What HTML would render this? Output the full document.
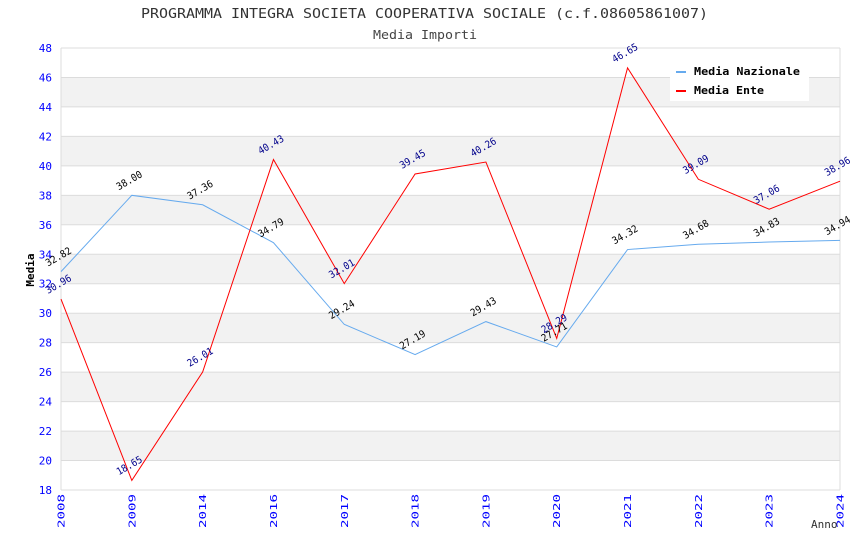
<!DOCTYPE html>
<html><head><meta charset="utf-8"><style>
body{margin:0;background:#fff;}
svg text{font-family:"DejaVu Sans Mono","Liberation Mono",monospace;}
</style></head><body>
<svg id="chart" width="850" height="550" xmlns="http://www.w3.org/2000/svg">
<text x="141" y="18" textLength="567" lengthAdjust="spacingAndGlyphs" font-size="13" fill="#333">PROGRAMMA INTEGRA SOCIETA COOPERATIVA SOCIALE (c.f.08605861007)</text>
<text x="373" y="39" textLength="104" lengthAdjust="spacingAndGlyphs" font-size="12" fill="#444">Media Importi</text>
<g id="bands"></g><g id="grid"></g><g id="yticks"></g><g id="xticks"></g><g id="series"></g><g id="labels"></g>
<text x="34" y="270" transform="rotate(-90 34 270)" text-anchor="middle" font-size="11" font-weight="bold" fill="#000">Media</text>
<text x="811" y="528" font-size="11" fill="#333">Anno</text>
<g>
<rect x="670" y="60" width="139" height="41" fill="#fff"/>
<rect x="676" y="71" width="10" height="2" fill="#66aaee"/>
<text x="694" y="75" textLength="106" lengthAdjust="spacingAndGlyphs" font-size="11" font-weight="bold" fill="#000">Media Nazionale</text>
<rect x="676" y="90" width="10" height="2" fill="#ff0000"/>
<text x="694" y="94" textLength="70" lengthAdjust="spacingAndGlyphs" font-size="11" font-weight="bold" fill="#000">Media Ente</text>
</g>
</svg>
<script>
const categories=["2008","2009","2014","2016","2017","2018","2019","2020","2021","2022","2023","2024"];
const nazionale=[32.82,38.00,37.36,34.79,29.24,27.19,29.43,27.71,34.32,34.68,34.83,34.94];
const ente=[30.96,18.65,26.01,40.43,32.01,39.45,40.26,28.29,46.65,39.09,37.06,38.96];
const yTicks=[18,20,22,24,26,28,30,32,34,36,38,40,42,44,46,48];
const X0=61,X1=840,Y0=490,Y1=48,YMIN=18,YMAX=48;
const NS="http://www.w3.org/2000/svg";
function xs(i){return X0+(X1-X0)*i/(categories.length-1);}
function ys(v){return Y0-(v-YMIN)/(YMAX-YMIN)*(Y0-Y1);}
function mk(tag,attrs,parent){const e=document.createElementNS(NS,tag);for(const k in attrs)e.setAttribute(k,attrs[k]);document.getElementById(parent).appendChild(e);return e;}
for(let i=0;i<yTicks.length-1;i++){
  if(yTicks[i]%4===0){const r=mk('rect',{x:X0,y:ys(yTicks[i+1]),width:X1-X0,height:ys(yTicks[i])-ys(yTicks[i+1]),fill:'#f2f2f2'},'bands');
  
  }
}
yTicks.forEach(v=>{
  const l=mk('line',{x1:X0,x2:X1,y1:ys(v),y2:ys(v),stroke:'#dcdcdc','stroke-width':1},'grid');
  
  
  const t=mk('text',{x:52,y:ys(v)+4,'text-anchor':'end','font-size':11,fill:'#0000ff'},'yticks');
  t.textContent=v;
  
  
});
mk('line',{x1:X0,x2:X0,y1:Y1,y2:Y0,stroke:'#dcdcdc'},'grid');
mk('line',{x1:X1,x2:X1,y1:Y1,y2:Y0,stroke:'#dcdcdc'},'grid');
categories.forEach((c,i)=>{
  const x=xs(i)+3.5,y=528;
  const t=mk('text',{x:x,y:y,transform:`rotate(-90 ${x} ${y})`,'font-size':9.5,fill:'#0000ff',textLength:34,lengthAdjust:'spacingAndGlyphs'},'xticks');
  t.textContent=c;
  
  
});
function series(data,color,lblColor,name){
  const p=mk('polyline',{points:data.map((v,i)=>xs(i)+','+ys(v)).join(' '),fill:'none',stroke:color,'stroke-width':1},'series');
  
  
  data.forEach((v,i)=>{
    const x=xs(i)-13,y=ys(v)-5;
    const t=mk('text',{x:x,y:y,transform:`rotate(-30 ${x} ${y})`,'font-size':10,fill:lblColor,textLength:28,lengthAdjust:'spacingAndGlyphs'},'labels');
    t.textContent=v.toFixed(2);
    
    
  });
}
series(nazionale,'#66aaee','#000','nazionale');
series(ente,'#ff0000','#00008b','ente');
</script>
</body></html>
